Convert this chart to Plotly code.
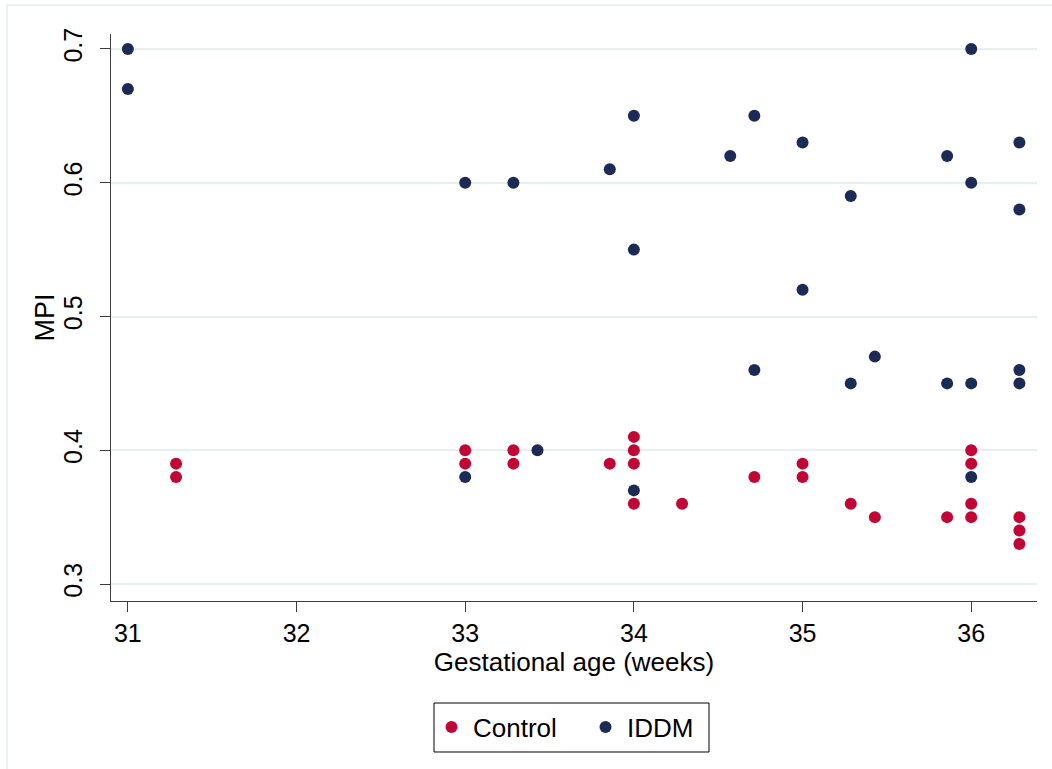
import plotly.graph_objects as go

# Gestational age in weeks (weeks + days/7) and MPI for each group
control_ga = [31 + 2/7, 31 + 2/7,
              33, 33,
              33 + 2/7, 33 + 2/7,
              33 + 6/7,
              34, 34, 34, 34,
              34 + 2/7,
              34 + 5/7,
              35, 35,
              35 + 2/7,
              35 + 3/7,
              35 + 6/7,
              36, 36, 36, 36,
              36 + 2/7, 36 + 2/7, 36 + 2/7]
control_mpi = [0.39, 0.38,
               0.40, 0.39,
               0.40, 0.39,
               0.39,
               0.41, 0.40, 0.39, 0.36,
               0.36,
               0.38,
               0.39, 0.38,
               0.36,
               0.35,
               0.35,
               0.40, 0.39, 0.36, 0.35,
               0.35, 0.34, 0.33]

iddm_ga = [31, 31,
           33, 33,
           33 + 2/7,
           33 + 3/7,
           33 + 6/7,
           34, 34, 34,
           34 + 4/7,
           34 + 5/7, 34 + 5/7,
           35, 35,
           35 + 2/7, 35 + 2/7,
           35 + 3/7,
           35 + 6/7, 35 + 6/7,
           36, 36, 36, 36,
           36 + 2/7, 36 + 2/7, 36 + 2/7, 36 + 2/7]
iddm_mpi = [0.70, 0.67,
            0.60, 0.38,
            0.60,
            0.40,
            0.61,
            0.65, 0.55, 0.37,
            0.62,
            0.65, 0.46,
            0.63, 0.52,
            0.59, 0.45,
            0.47,
            0.62, 0.45,
            0.70, 0.60, 0.45, 0.38,
            0.63, 0.58, 0.46, 0.45]

x_ticks = [31, 32, 33, 34, 35, 36]
y_ticks = [0.3, 0.4, 0.5, 0.6, 0.7]

FONT = "Liberation Sans, Arial, sans-serif"
RED = "#c10534"
NAVY = "#1c2b55"
GRID = "#e6eeef"
AXIS = "#3c3c3c"

fig = go.Figure()
fig.add_trace(go.Scatter(x=control_ga, y=control_mpi, mode="markers", name="Control",
                         legend="legend",
                         marker=dict(color=RED, size=12, line=dict(width=0))))
fig.add_trace(go.Scatter(x=iddm_ga, y=iddm_mpi, mode="markers", name="IDDM",
                         legend="legend2",
                         marker=dict(color=NAVY, size=12, line=dict(width=0))))

# thin outer frame around the graph region
fig.add_shape(type="rect", xref="paper", yref="paper",
              x0=-0.1123, x1=1.2, y0=1.0511, y1=-0.5,
              line=dict(color="#e6eeef", width=1.5), fillcolor="rgba(0,0,0,0)", layer="below")

# box enclosing both legend entries
fig.add_shape(type="rect", xref="paper", yref="paper",
              x0=0.3488, x1=0.6458, y0=-0.1799, y1=-0.2663,
              line=dict(color="black", width=1), fillcolor="white", layer="below")

# y-axis title
fig.add_annotation(text="MPI", xref="paper", yref="paper", x=-0.0713, y=0.5,
                   xanchor="center", yanchor="middle", textangle=-90, showarrow=False,
                   font=dict(size=27, family=FONT, color="black"))

legend_common = dict(orientation="h", yanchor="middle", y=-0.2223, xanchor="left",
                     bgcolor="rgba(0,0,0,0)", borderwidth=0, font=dict(size=26),
                     itemsizing="constant", itemwidth=33)

fig.update_layout(
    width=1052, height=769,
    margin=dict(l=111, r=15, t=34, b=168),
    paper_bgcolor="white", plot_bgcolor="white",
    font=dict(family=FONT, color="black", size=25),
    showlegend=True,
    legend=dict(x=0.3445, **legend_common),
    legend2=dict(x=0.5108, **legend_common),
    xaxis=dict(range=[30.9, 36.39], tickvals=x_ticks, ticks="outside", ticklen=10,
               tickcolor=AXIS, showline=True, linecolor=AXIS, linewidth=1,
               showgrid=False, zeroline=False, tickfont=dict(size=25),
               title=dict(text="Gestational age (weeks)", font=dict(size=26), standoff=0)),
    yaxis=dict(range=[0.2873, 0.7112], tickvals=y_ticks, ticktext=[f"{v:.1f}" for v in y_ticks],
               ticks="outside", ticklen=10, tickcolor=AXIS, tickangle=-90,
               ticklabelstandoff=8,
               showline=True, linecolor=AXIS, linewidth=1,
               showgrid=True, gridcolor=GRID, gridwidth=1.5, zeroline=False,
               tickfont=dict(size=25)),
)

fig.write_html("out.html")
